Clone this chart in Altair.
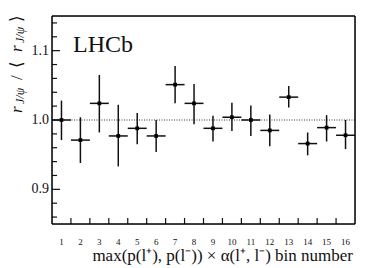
import altair as alt
import pandas as pd

# ---- data ----
bins = list(range(1, 17))
values = [1.000, 0.971, 1.024, 0.977, 0.988, 0.977, 1.051, 1.024,
          0.988, 1.004, 1.000, 0.985, 1.033, 0.966, 0.989, 0.978]
err_lo = [0.971, 0.938, 0.982, 0.933, 0.965, 0.954, 1.024, 0.994,
          0.969, 0.984, 0.977, 0.962, 1.018, 0.949, 0.969, 0.958]
err_hi = [1.028, 1.004, 1.065, 1.022, 1.010, 1.000, 1.078, 1.052,
          1.006, 1.025, 1.021, 1.008, 1.049, 0.982, 1.007, 1.000]
y_labels = [0.9, 1.0, 1.1]
y_major = [0.9, 1.0, 1.1]
y_minor = [0.86, 0.88, 0.92, 0.94, 0.96, 0.98, 1.02, 1.04, 1.06, 1.08, 1.12, 1.14]
x_ticks = [1.5, 2.5, 3.5, 4.5, 5.5, 6.5, 7.5, 8.5, 9.5, 10.5, 11.5, 12.5, 13.5, 14.5, 15.5]
reference = [1.0]
frame_x = [0.5, 16.5]
frame_y = [0.85, 1.15]

W, H = 303, 208
SERIF = "Liberation Serif"
INK = "#111111"

df = pd.DataFrame({"bin": bins, "val": values, "lo": err_lo, "hi": err_hi})
df["xlo"] = df["bin"] - 0.5
df["xhi"] = df["bin"] + 0.5

xs = alt.Scale(domain=[0.5, 16.5], nice=False, zero=False)
ys = alt.Scale(domain=[0.85, 1.15], nice=False, zero=False)

base = alt.Chart(df)

vbars = base.mark_rule(color=INK, strokeWidth=1.5).encode(
    x=alt.X("bin:Q", scale=xs, axis=None),
    y=alt.Y("lo:Q", scale=ys, axis=None), y2="hi:Q")
hbars = base.mark_rule(color=INK, strokeWidth=1.5).encode(
    x=alt.X("xlo:Q", scale=xs, axis=None), x2="xhi:Q",
    y=alt.Y("val:Q", scale=ys, axis=None))
pts = base.mark_square(color="#000000", size=14, opacity=1).encode(
    x=alt.X("bin:Q", scale=xs, axis=None), y=alt.Y("val:Q", scale=ys, axis=None))

ref = alt.Chart(pd.DataFrame({"r": reference})).mark_rule(
    color="#333333", strokeWidth=1, strokeDash=[1, 1.5]).encode(
    y=alt.Y("r:Q", scale=ys, axis=None))

ymaj = alt.Chart(pd.DataFrame({"t": y_major})).mark_rule(color=INK, strokeWidth=1.2).encode(
    y=alt.Y("t:Q", scale=ys, axis=None), x=alt.value(0), x2=alt.value(8))
ymin = alt.Chart(pd.DataFrame({"t": y_minor})).mark_rule(color=INK, strokeWidth=1.2).encode(
    y=alt.Y("t:Q", scale=ys, axis=None), x=alt.value(0), x2=alt.value(5))
xtk = alt.Chart(pd.DataFrame({"t": x_ticks})).mark_rule(color=INK, strokeWidth=1.2).encode(
    x=alt.X("t:Q", scale=xs, axis=None), y=alt.value(H), y2=alt.value(H - 6))

ylab = alt.Chart(pd.DataFrame({"v": y_labels})).mark_text(
    font=SERIF, fontSize=14, color=INK, align="right", baseline="middle").encode(
    y=alt.Y("v:Q", scale=ys, axis=None), x=alt.value(-3),
    text=alt.Text("v:Q", format=".1f"))
xlab = alt.Chart(pd.DataFrame({"b": bins})).mark_text(
    font=SERIF, fontSize=9, color=INK, align="center", baseline="alphabetic").encode(
    x=alt.X("b:Q", scale=xs, axis=None), y=alt.value(H + 21),
    text=alt.Text("b:Q", format="d"))

one = pd.DataFrame({"k": [0]})

# plot frame: vertical sides placed through the x scale, horizontal sides through the y scale
fr_v = alt.Chart(pd.DataFrame({"fx": frame_x})).mark_rule(color="#000000", strokeWidth=1.5).encode(
    x=alt.X("fx:Q", scale=xs, axis=None), y=alt.value(0), y2=alt.value(H))
fr_h = alt.Chart(pd.DataFrame({"fy": frame_y})).mark_rule(color="#000000", strokeWidth=1.5).encode(
    y=alt.Y("fy:Q", scale=ys, axis=None), x=alt.value(0), x2=alt.value(W))

def txt(s, x, y, size, italic=False, align="left", baseline="alphabetic", angle=0):
    kw = dict(font=SERIF, fontSize=size, color=INK, align=align, baseline=baseline)
    if italic:
        kw["fontStyle"] = "italic"
    if angle:
        kw["angle"] = angle
    return alt.Chart(one).mark_text(**kw).encode(
        x=alt.value(x), y=alt.value(y), text=alt.value(s))

lhcb = txt("LHCb", 21, 36, 24)
xtitle = txt("max(p(l\u207a), p(l\u207b)) \u00d7 \u03b1(l\u207a, l\u207b) bin number",
             301, 245, 17, align="right")

# y title pieces (rotated)
MX, SX = -35, -32
ytitle = [
    txt("r", MX, 97, 17, italic=True, baseline="middle", angle=270),
    txt("J/\u03c8", SX, 88, 12, italic=True, baseline="middle", angle=270),
    txt("/", MX, 64, 17, baseline="middle", angle=270),
    txt("\u27e8", MX, 52, 17, baseline="middle", angle=270),
    txt("r", MX, 36, 17, italic=True, baseline="middle", angle=270),
    txt("J/\u03c8", SX, 27, 12, italic=True, baseline="middle", angle=270),
    txt("\u27e9", MX, 6, 17, baseline="middle", angle=270),
]

chart = alt.layer(ref, vbars, hbars, pts, ymaj, ymin, xtk, ylab, xlab,
                  fr_v, fr_h, lhcb, xtitle, *ytitle).properties(
    width=W, height=H,
    autosize=alt.AutoSizeParams(type="none"),
    padding={"left": 44, "top": 8, "right": 11, "bottom": 42},
).configure_view(stroke=None).configure(background="white")

chart.save("out.html", embed_options={"renderer": "svg", "actions": False})
